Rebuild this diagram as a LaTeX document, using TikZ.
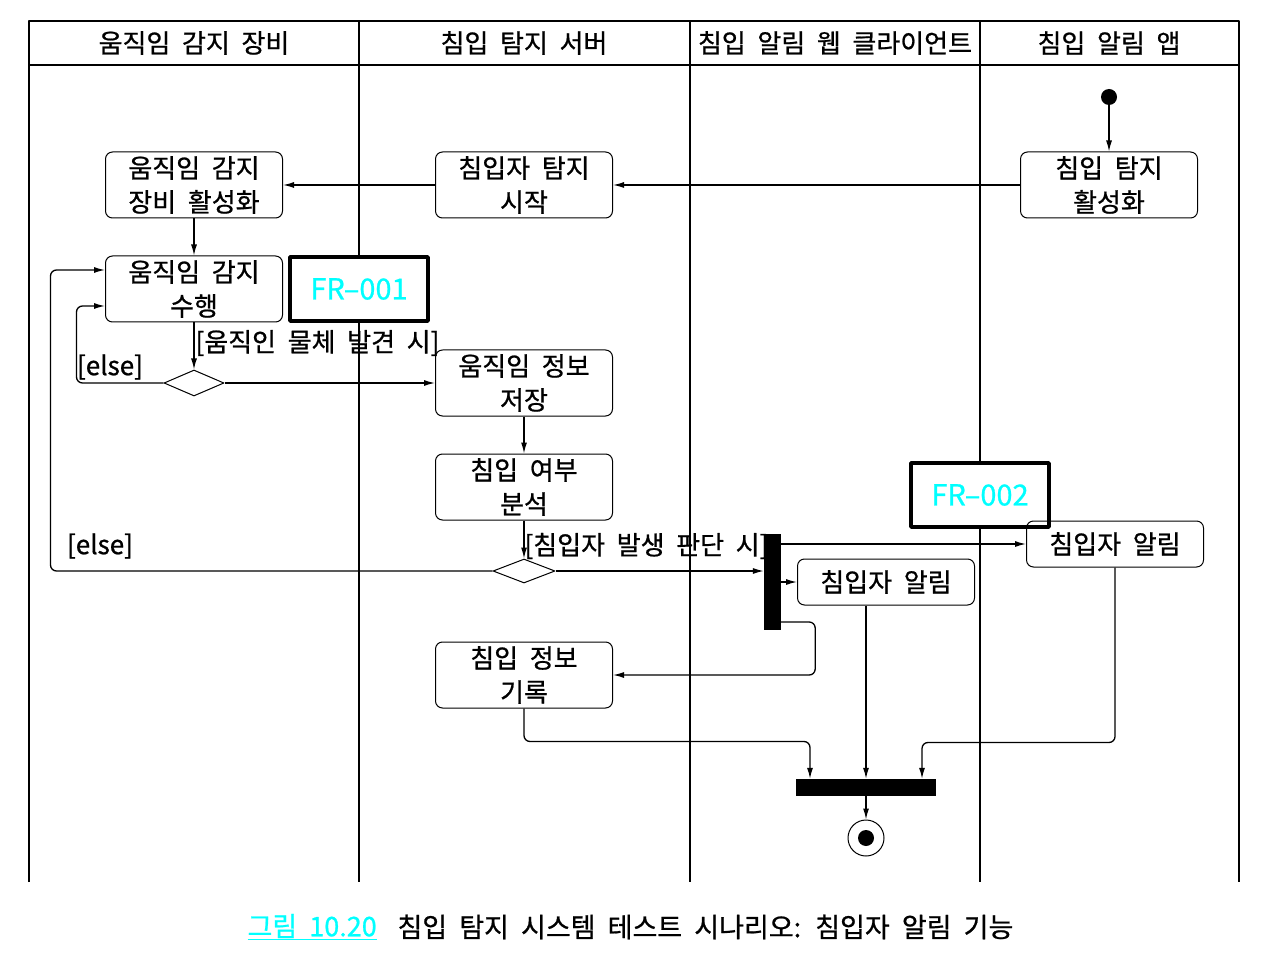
\documentclass[tikz,border=0pt]{standalone}
\usepackage{fontspec}
\setmainfont[WordSpace=2,FakeBold=0.8]{Noto Sans CJK KR}
\usetikzlibrary{arrows.meta,shapes.geometric}
\definecolor{frcyan}{RGB}{0,255,255}

\begin{document}
\begin{tikzpicture}[line join=round,>={Latex[length=11pt,width=6pt]},x=1pt,y=-1pt]
    \tikzset{act/.style={draw,line width=1pt,rounded corners=7pt,minimum width=177pt,minimum height=66pt,
            align=center,inner sep=2pt,font=\fontsize{26}{34}\selectfont},
        flow/.style={->,line width=1.3pt},
        lane/.style={line width=2pt},
        guard/.style={font=\fontsize{26}{30}\selectfont},
        frbox/.style={draw,line width=3.5pt,fill=white,minimum width=138pt,minimum height=64pt,
            text=frcyan,font=\fontsize{29}{30}\selectfont},
        bar/.style={fill=black,inner sep=0pt},
        choice/.style={diamond,draw,line width=1pt,fill=white,minimum width=60pt,minimum height=26pt,inner sep=0pt}}
    \useasboundingbox (0,0) rectangle (1263,965);
    % swimlanes
    \draw[lane] (29,882) -- (29,21) -- (1239,21) -- (1239,882);
    \draw[lane] (29,65) -- (1239,65);
    \foreach \x in {359,690,980}
    \draw[lane] (\x,21) -- (\x,882);
    \foreach \x/\t in {194/움직임 감지 장비,524/침입 탐지 서버,835/침입 알림 웹 클라이언트,1109/침입 알림 앱}
    \node[font=\fontsize{26}{30}\selectfont] (h\x) at (\x,43) {\t};
    % activities
    \node[circle,fill,minimum size=16pt,inner sep=0pt] (start) at (1109,97) {};
    \node[act] (arm) at (1109,185) {침입 탐지\\활성화};
    \node[act] (begin) at (524,185) {침입자 탐지\\시작};
    \node[act] (on) at (194,185) {움직임 감지\\장비 활성화};
    \node[act] (scan) at (194,289) {움직임 감지\\수행};
    \node[frbox] (fr1) at (359,289) {FR–001};
    \node[choice] (d1) at (194,383) {};
    \node[act] (save) at (524,383) {움직임 정보\\저장};
    \node[act] (anal) at (524,487) {침입 여부\\분석};
    \node[choice,minimum width=62pt,minimum height=24pt] (d2) at (524,571) {};
    \node[bar,minimum width=17pt,minimum height=96pt] (fork) at (772.5,582) {};
    \node[act,minimum height=46pt] (web) at (886,582) {침입자 알림};
    \node[frbox] (fr2) at (980,495) {FR–002};
    \node[act,minimum height=46pt] (app) at (1115,544) {침입자 알림};
    \node[act] (rec) at (524,675) {침입 정보\\기록};
    \node[bar,minimum width=140pt,minimum height=17pt] (join) at (866,787.5) {};
    \node[circle,draw,line width=1pt,minimum size=36pt,inner sep=0pt] (end) at (866,838) {};
    \fill (end.center) circle (8pt);
    % guards
    \node[guard,anchor=west] (g1) at (192,343) {[움직인 물체 발견 시]};
    \node[guard] (e1) at (110,367) {[else]};
    \node[guard,anchor=west] (g2) at (521,546) {[침입자 발생 판단 시]};
    \node[guard] (e2) at (100,546) {[else]};
    % flows
    \draw[flow] (start) -- (arm);
    \draw[flow] (arm.west) -- (begin.east);
    \draw[flow] (begin.west) -- (on.east);
    \draw[flow] (on) -- (scan);
    \draw[flow] (scan) -- (d1);
    \draw[flow] (d1) -- (save);
    \draw[flow,rounded corners=6pt] (d1.west) -- ++(-87,0) |- ([yshift=-17pt]scan.west);
    \draw[flow] (save) -- (anal);
    \draw[flow] (anal) -- (d2);
    \draw[flow,rounded corners=6pt] (d2.west) -- ++(-442,0) |- ([yshift=19pt]scan.west);
    \draw[flow] (d2.east) -- (d2.east -| fork.west);
    \draw[flow] (fork.east |- app.west) -- (app.west);
    \draw[flow] (fork.east |- web.west) -- (web.west);
    \draw[flow,rounded corners=6pt] ([yshift=-40pt]fork.east) -- ++(34,0) |- (rec.east);
    \draw[flow,rounded corners=6pt] (rec.south) -- ++(0,33) -| ([xshift=-56pt]join.north);
    \draw[flow] (web.south -| join.north) -- (join.north);
    \draw[flow,rounded corners=6pt] (app.south) -- ++(0,175) -| ([xshift=56pt]join.north);
    \draw[flow] (join) -- (end);
    % caption
    \node[anchor=west,text=frcyan,font=\fontsize{27}{30}\selectfont] (fig) at (244,927) {\underline{그림 10.20}};
    \node[anchor=west,font=\fontsize{27}{30}\selectfont] (cap) at (394,927) {침입 탐지 시스템 테스트 시나리오: 침입자 알림 기능};
\end{tikzpicture}
\end{document}
